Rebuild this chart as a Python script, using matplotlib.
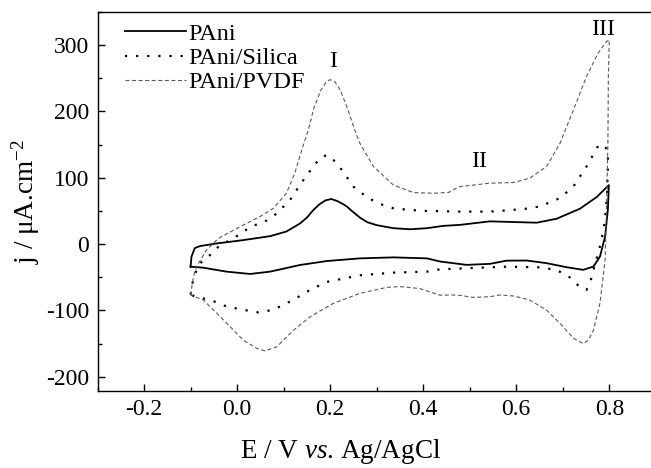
import matplotlib
matplotlib.use("Agg")
import matplotlib.pyplot as plt
from matplotlib.ticker import MultipleLocator

plt.rcParams['font.family'] = ['Liberation Serif', 'DejaVu Serif']
plt.rcParams['mathtext.fontset'] = 'custom'
plt.rcParams['mathtext.rm'] = 'Liberation Serif'
plt.rcParams['mathtext.it'] = 'Liberation Serif:italic'
plt.rcParams['axes.unicode_minus'] = False

# cyclic voltammograms, E (V vs Ag/AgCl) and j (uA/cm2), one closed loop per film
pani_E = [-0.100, -0.098, -0.091, -0.080, -0.044, 0.013, 0.071, 0.106, 0.135, 0.150,
          0.164, 0.177, 0.190, 0.203, 0.215, 0.226, 0.236, 0.250, 0.264, 0.280,
          0.300, 0.336, 0.372, 0.408, 0.443, 0.479,
          0.543, 0.594, 0.644, 0.687, 0.737, 0.773, 0.799,
          0.797, 0.791, 0.780, 0.766, 0.744, 0.708, 0.665, 0.622, 0.579, 0.543,
          0.493, 0.436, 0.408, 0.336, 0.264, 0.193, 0.135, 0.071, 0.028, -0.023,
          -0.073, -0.100]
pani_j = [-34, -19, -6, -3, 1, 6, 12, 19, 31, 40,
          51.5, 60, 66, 68, 65, 61, 56.6, 48, 40, 33,
          28.6, 24, 22.4, 24, 27.5, 29,
          34.3, 33.3, 32.3, 38.3, 53.4, 71, 89,
          52, 11.5, -18.7, -33.8, -38.8, -34.8, -28.7, -24.7, -25, -29.8,
          -31.3, -26.2, -21.5, -20, -21.5, -25.5, -31.5, -41.5, -45, -41.5,
          -35.5, -34]

silica_E = [-0.100, -0.094, -0.087, -0.076, -0.058, -0.040, -0.015, 0.010, 0.028, 0.046,
            0.063, 0.081, 0.096, 0.114, 0.135, 0.150, 0.164, 0.178, 0.193, 0.207,
            0.225, 0.250, 0.268, 0.286, 0.307, 0.336, 0.372, 0.408, 0.479, 0.543,
            0.615, 0.651, 0.694, 0.723, 0.751, 0.776, 0.788, 0.797,
            0.797, 0.795, 0.790, 0.782, 0.770, 0.760, 0.751, 0.737, 0.715, 0.687,
            0.651, 0.580, 0.508, 0.436, 0.408, 0.336, 0.264, 0.193, 0.157, 0.121,
            0.078, 0.046, 0.013, -0.023, -0.058, -0.087, -0.100]
silica_j = [-76, -52, -39, -26.5, -16.4, -3.8, 6.2, 16.3, 26.4, 30.4,
            35.4, 44, 54, 66.6, 89, 104, 117, 129.5, 134.5, 127,
            112, 86.7, 76.7, 68, 60.6, 54, 51.5, 50, 49, 49,
            52.8, 56.8, 69.4, 87, 117, 148, 150, 140,
            117, 72, 32, 2, -29, -55, -69, -65, -50, -39,
            -35, -34, -36, -38, -41.5, -43, -47, -57, -69, -84,
            -99, -103, -99, -94, -84, -80, -76]

pvdf_E = [-0.100, -0.094, -0.087, -0.066, -0.040, 0.006, 0.049, 0.078, 0.106, 0.124,
          0.139, 0.153, 0.165, 0.180, 0.192, 0.200, 0.210, 0.222, 0.237, 0.253,
          0.264, 0.293, 0.336, 0.379, 0.422, 0.455, 0.470, 0.479, 0.543, 0.594,
          0.629, 0.665, 0.694, 0.723, 0.751, 0.776, 0.794, 0.800,
          0.798, 0.797, 0.794, 0.791, 0.780, 0.766, 0.755, 0.744, 0.723, 0.694,
          0.665, 0.629, 0.594, 0.565, 0.543, 0.508, 0.472, 0.436, 0.393, 0.350,
          0.322, 0.264, 0.207, 0.157, 0.121, 0.085, 0.060, 0.042, 0.013, -0.015,
          -0.044, -0.073, -0.100]
pvdf_j = [-77, -49, -34, -9, 8.8, 26, 41.5, 54, 76.7, 107,
          142, 172, 205, 232, 245, 248, 245, 232, 205, 172,
          152, 117, 89, 77.7, 76.7, 78, 84, 86.8, 91.8, 92.9,
          99.4, 117, 152, 202.5, 252.8, 288, 305.6, 308,
          252.8, 152, 51.8, -23.7, -89, -129.5, -145, -150, -142, -119.5,
          -99.4, -84.3, -78.2, -76.7, -79.3, -80.3, -76.7, -77, -67, -64,
          -65.2, -74.2, -89.3, -109.5, -130, -155, -161, -157, -144.7, -124.5,
          -104, -84, -77]

peak_labels = ['I', 'II', 'III']
peak_E = [0.207, 0.52, 0.786]
peak_j = [276, 125, 323]

fig = plt.figure(figsize=(6.51, 4.68), dpi=100)
ax = fig.add_axes([0.1498, 0.1652, 0.8576, 0.8092])

ax.plot(pani_E, pani_j, color='black', lw=1.3, label='PAni')
ax.plot(silica_E, silica_j, color='black', lw=1.6, linestyle=(0, (1, 4)),
        label='PAni/Silica')
ax.plot(pvdf_E, pvdf_j, color='0.35', lw=0.8, linestyle=(0, (3.6, 2.3)),
        label='PAni/PVDF')

for lab, e, j in zip(peak_labels, peak_E, peak_j):
    ax.text(e, j, lab, ha='center', va='center', fontsize=17)

ax.set_xlim(-0.3, 0.9)
ax.set_ylim(-221, 350)
ax.xaxis.set_minor_locator(MultipleLocator(0.1))
ax.yaxis.set_major_locator(MultipleLocator(100))
ax.yaxis.set_minor_locator(MultipleLocator(50))
ax.set_xticks([-0.2, 0.0, 0.2, 0.4, 0.6, 0.8])
ax.set_xticklabels(['-0.2', '0.0', '0.2', '0.4', '0.6', '0.8'])
ax.tick_params(which='both', direction='in', labelsize=17, width=1.0, pad=6)
ax.tick_params(which='major', length=5)
ax.tick_params(which='minor', length=3)
for s in ax.spines.values():
    s.set_linewidth(1.0)

ax.set_xlabel('E / V $\\it{vs}$. Ag/AgCl', fontsize=19.5)
ax.set_ylabel('j / \u03bcA.cm$^{-2}$', fontsize=19.5)
ax.xaxis.set_label_coords(0.435, -0.122)
ax.yaxis.set_label_coords(-0.10, 0.5)

ax.legend(loc='upper left', bbox_to_anchor=(0.049, 0.972), frameon=False,
          fontsize=17.5, handlelength=2.5, handletextpad=0.1,
          borderpad=0, borderaxespad=0, labelspacing=0.1)

fig.savefig('out.png', dpi=100)
